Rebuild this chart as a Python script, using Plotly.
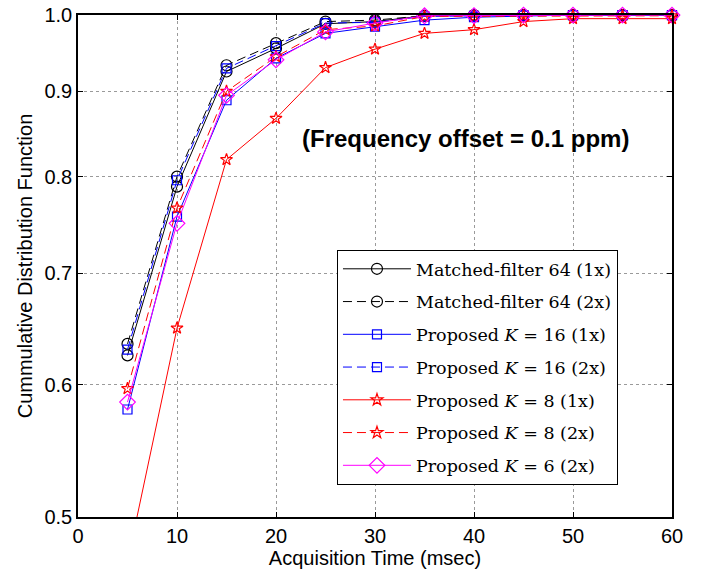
import plotly.graph_objects as go
import math

x = [5, 10, 15, 20, 25, 30, 35, 40, 45, 50, 55, 60]

mf64_1x = [0.625, 0.789, 0.925, 0.955, 0.988, 0.991, 0.999, 0.999, 1.0, 1.0, 1.0, 1.0]
mf64_2x = [0.635, 0.800, 0.933, 0.962, 0.991, 0.993, 0.999, 1.0, 1.0, 1.0, 1.0, 1.0]
k16_1x = [0.580, 0.757, 0.889, 0.942, 0.975, 0.984, 0.993, 0.997, 0.999, 1.0, 1.0, 1.0]
k16_2x = [0.630, 0.796, 0.929, 0.958, 0.989, 0.990, 0.998, 0.999, 1.0, 1.0, 1.0, 1.0]
k8_1x = [0.470, 0.649, 0.819, 0.867, 0.930, 0.954, 0.975, 0.980, 0.991, 0.995, 0.995, 0.995]
k8_2x = [0.597, 0.766, 0.900, 0.944, 0.980, 0.985, 0.998, 0.998, 0.999, 0.999, 0.999, 0.999]
k6_2x = [0.586, 0.750, 0.895, 0.940, 0.977, 0.989, 0.999, 0.999, 1.0, 1.0, 1.0, 1.0]

names = [
    "Matched-filter 64 (1x)",
    "Matched-filter 64 (2x)",
    "Proposed <i>K</i> = 16 (1x)",
    "Proposed <i>K</i> = 16 (2x)",
    "Proposed <i>K</i> = 8 (1x)",
    "Proposed <i>K</i> = 8 (2x)",
    "Proposed <i>K</i> = 6 (2x)",
]
series = [mf64_1x, mf64_2x, k16_1x, k16_2x, k8_1x, k8_2x, k6_2x]
colors = ["black", "black", "blue", "blue", "red", "red", "magenta"]
dashes = ["solid", "9px,5px", "solid", "9px,5px", "solid", "9px,5px", "solid"]
symbols = ["circle-open", "circle-open", "square-open", "square-open",
           "star-open", "star-open", "diamond-open"]
sizes = [11, 11, 9, 9, 9, 9, 12]

yticks = [0.5, 0.6, 0.7, 0.8, 0.9, 1.0]
yticklabels = ["0.5", "0.6", "0.7", "0.8", "0.9", "1.0"]
xticks = [0, 10, 20, 30, 40, 50, 60]

fig = go.Figure()
for i, (nm, ys) in enumerate(zip(names, series)):
    fig.add_trace(go.Scatter(
        x=x, y=ys, name=nm, mode="lines+markers",
        legendgroup=f"g{i}",
        line=dict(color=colors[i], width=1, dash=dashes[i]),
        marker=dict(symbol=symbols[i], size=sizes[i], color=colors[i],
                    line=dict(color=colors[i], width=1.2)),
        cliponaxis=False,
    ))

axis_common = dict(
    showline=True, linecolor="black", linewidth=1.5, mirror="ticks",
    ticks="inside", ticklen=5, tickcolor="black",
    showgrid=True, gridcolor="#9a9a9a", griddash="dot", gridwidth=1,
    zeroline=False, automargin=False,
    tickfont=dict(family="Liberation Sans, Arial", size=20, color="black"),
)

fig.update_xaxes(
    range=[0, 60], tickvals=xticks,
    title=dict(text="Acquisition Time (msec)", standoff=2,
               font=dict(family="Liberation Sans, Arial", size=20, color="black")),
    **axis_common,
)
fig.update_yaxes(
    type="log", range=[math.log10(0.5), 0.00002],
    tickvals=yticks, ticktext=yticklabels,
    ticklabeloverflow="allow",
    title=dict(text="Cummulative Distribution Function", standoff=6,
               font=dict(family="Liberation Sans, Arial", size=20, color="black")),
    **axis_common,
)

fig.add_annotation(
    x=0.653, y=0.785, xref="paper", yref="paper",
    text="<b>(Frequency offset = 0.1 ppm)</b>", showarrow=False,
    font=dict(family="Liberation Sans, Arial", size=24, color="black"),
)

fig.update_layout(
    width=710, height=572,
    margin=dict(l=78, r=38, t=15, b=55),
    paper_bgcolor="white", plot_bgcolor="white",
    showlegend=True,
    legend=dict(
        x=0.436, y=0.532, xanchor="left", yanchor="top",
        bgcolor="white", bordercolor="black", borderwidth=1,
        font=dict(family="DejaVu Serif", size=17.5, color="black"),
        itemwidth=68, tracegroupgap=7, traceorder="grouped",
    ),
)

fig.write_html("out.html", config={"displayModeBar": False},
               post_script="document.body.style.margin='0';")
